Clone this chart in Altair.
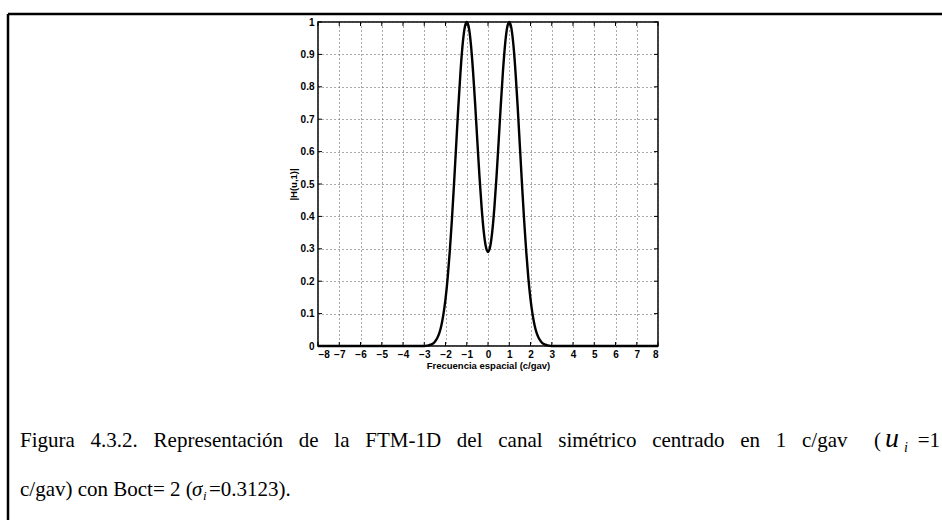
import altair as alt
import pandas as pd

# ---- data ----
freq = [-8.0, -3.0, -2.9, -2.8, -2.7, -2.6, -2.5, -2.4, -2.3, -2.2, -2.1, -2.0,
        -1.9, -1.8, -1.7, -1.6, -1.5, -1.4, -1.3, -1.2, -1.1, -1.0, -0.9, -0.8,
        -0.7, -0.6, -0.5, -0.4, -0.3, -0.2, -0.1, 0.0, 0.1, 0.2, 0.3, 0.4, 0.5,
        0.6, 0.7, 0.8, 0.9, 1.0, 1.1, 1.2, 1.3, 1.4, 1.5, 1.6, 1.7, 1.8, 1.9,
        2.0, 2.1, 2.2, 2.3, 2.4, 2.5, 2.6, 2.7, 2.8, 2.9, 3.0, 8.0]
mag = [0.000, 0.000, 0.001, 0.002, 0.004, 0.007, 0.013, 0.023, 0.038, 0.062, 0.097, 0.145,
       0.209, 0.291, 0.388, 0.499, 0.617, 0.734, 0.840, 0.926, 0.981, 1.000, 0.982, 0.928,
       0.844, 0.742, 0.630, 0.522, 0.427, 0.353, 0.306, 0.290, 0.306, 0.353, 0.427, 0.522, 0.630,
       0.742, 0.844, 0.928, 0.982, 1.000, 0.981, 0.926, 0.840, 0.734, 0.617, 0.499, 0.388, 0.291, 0.209,
       0.145, 0.097, 0.062, 0.038, 0.023, 0.013, 0.007, 0.004, 0.002, 0.001, 0.000, 0.000]

x_ticks = [-8, -7, -6, -5, -4, -3, -2, -1, 0, 1, 2, 3, 4, 5, 6, 7, 8]
y_ticks = [0, 0.1, 0.2, 0.3, 0.4, 0.5, 0.6, 0.7, 0.8, 0.9, 1.0]

x_title = "Frecuencia espacial (c/gav)"
y_title = "|H(u,1)|"

GAP = " \u2002"
cap1_words = ["Figura", "4.3.2.", "Representación", "de", "la", "FTM-1D", "del",
              "canal", "simétrico", "centrado", "en", "1", "c/gav"]
cap1_main = GAP.join(cap1_words)
cap2_main = "c/gav) con Boct= 2 ("

W, H = 340, 324
PL, PT = 318, 22

df = pd.DataFrame({"freq": freq, "mag": mag})
dfx = pd.DataFrame({"freq": x_ticks})
dfy = pd.DataFrame({"mag": y_ticks})

FONT = "Liberation Sans"
SERIF = "Liberation Serif"

xscale = alt.Scale(domain=[-8, 8], nice=False, zero=False)
yscale = alt.Scale(domain=[0, 1], nice=False)

xaxis = alt.Axis(values=x_ticks, title=x_title, grid=True, gridDash=[1, 3],
                 gridColor="#555", gridWidth=1, domain=False, ticks=False,
                 labelFont=FONT, labelFontWeight="bold", labelFontSize=10,
                 labelColor="black", labelPadding=3, format="d",
                 titleFont=FONT, titleFontWeight="bold", titleFontSize=9.5,
                 titleColor="black", titlePadding=1)
yaxis = alt.Axis(values=y_ticks, title=y_title, grid=True, gridDash=[1, 3],
                 gridColor="#555", gridWidth=1, domain=False, ticks=False,
                 labelFont=FONT, labelFontWeight="bold", labelFontSize=10,
                 labelColor="black", labelPadding=4, format="~g",
                 titleFont=FONT, titleFontWeight="bold", titleFontSize=9.5,
                 titleColor="black", titlePadding=2)

line = alt.Chart(df).mark_line(color="black", strokeWidth=2.4, interpolate="monotone").encode(
    x=alt.X("freq:Q", scale=xscale, axis=xaxis, title=x_title),
    y=alt.Y("mag:Q", scale=yscale, axis=yaxis, title=y_title),
)

xt_bottom = alt.Chart(dfx).mark_rule(color="black", strokeWidth=1).encode(
    x=alt.X("freq:Q", scale=xscale, axis=xaxis, title=x_title),
    y=alt.value(H), y2=alt.value(H - 4))
xt_top = alt.Chart(dfx).mark_rule(color="black", strokeWidth=1).encode(
    x=alt.X("freq:Q", scale=xscale, axis=xaxis, title=x_title),
    y=alt.value(0), y2=alt.value(4))
yt_left = alt.Chart(dfy).mark_rule(color="black", strokeWidth=1).encode(
    y=alt.Y("mag:Q", scale=yscale, axis=yaxis, title=y_title),
    x=alt.value(0), x2=alt.value(4))
yt_right = alt.Chart(dfy).mark_rule(color="black", strokeWidth=1).encode(
    y=alt.Y("mag:Q", scale=yscale, axis=yaxis, title=y_title),
    x=alt.value(W), x2=alt.value(W - 4))

one = pd.DataFrame({"k": [0]})

frame_top = alt.Chart(one).mark_rule(color="black", strokeWidth=2.5).encode(
    x=alt.value(8 - PL), x2=alt.value(960 - PL), y=alt.value(14 - PT))
frame_left = alt.Chart(one).mark_rule(color="black", strokeWidth=2.5).encode(
    x=alt.value(8 - PL), y=alt.value(14 - PT), y2=alt.value(540 - PT))


def txt(s, x, y, size=21, style="normal", align="left"):
    return alt.Chart(pd.DataFrame({"t": [s]})).mark_text(
        font=SERIF, fontSize=size, fontStyle=style, align=align,
        baseline="alphabetic", color="black").encode(
        text="t:N", x=alt.value(x - PL), y=alt.value(y - PT))


L1, L2 = 447, 496
cap = [
    txt(cap1_main, 20, L1),
    txt("(", 874, L1),
    txt("u", 885, L1, size=28, style="italic"),
    txt("i", 904, L1 + 5, size=14, style="italic"),
    txt("=1", 940, L1, align="right"),
    txt(cap2_main, 20, L2),
    txt("σ", 192, L2, style="italic"),
    txt("i", 203, L2 + 4, size=13, style="italic"),
    txt("=0.3123).", 209, L2),
]

chart = alt.layer(line, xt_bottom, xt_top, yt_left, yt_right,
                  frame_top, frame_left, *cap).properties(
    width=W, height=H,
    autosize=alt.AutoSizeParams(type="none"),
    padding={"left": PL, "top": PT, "right": 942 - PL - W, "bottom": 520 - PT - H},
    background="white",
).configure_view(stroke="black", strokeWidth=1.5)

chart.save("out.html", embed_options={"renderer": "svg", "actions": False})
